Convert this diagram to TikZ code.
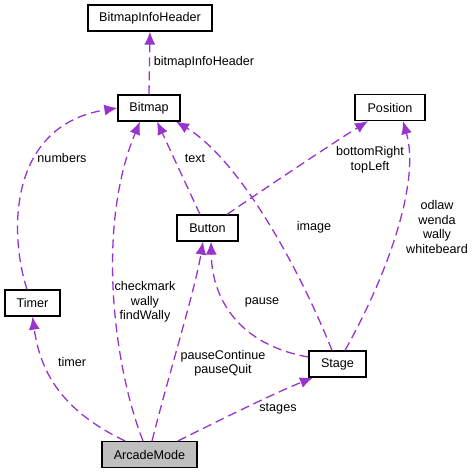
\documentclass[tikz,border=0pt]{standalone}
\usepackage{fontspec}
\setmainfont{Liberation Sans}
\usepackage{xcolor}
\usetikzlibrary{arrows.meta}
\definecolor{edgepurple}{RGB}{154,50,205}
\definecolor{boxgray}{RGB}{191,191,191}

\begin{document}
\begin{tikzpicture}[x=1pt,y=-1pt,
  cls/.style={draw=black, line width=1.2pt, fill=white, minimum height=26pt, inner sep=0pt,
    font=\fontsize{12.6}{14.5}\selectfont},
  use/.style={draw=edgepurple, line width=1.3pt, dash pattern=on 9pt off 5pt,
    -{Latex[length=13pt,width=11pt,fill=edgepurple]}},
  lbl/.style={align=center, font=\fontsize{12.6}{14.5}\selectfont, inner sep=0pt}]
\useasboundingbox (0,0) rectangle (474,473);

%classes
\node[cls, minimum width=124pt] (BitmapInfoHeader) at (150,18) {BitmapInfoHeader};
\node[cls, minimum width=62pt] (Bitmap) at (149,108) {Bitmap};
\node[cls, minimum width=70pt] (Position) at (390,107.5) {Position};
\node[cls, minimum width=61pt] (Button) at (207.5,228) {Button};
\node[cls, minimum width=55pt] (Timer) at (32.5,303) {Timer};
\node[cls, minimum width=57pt] (Stage) at (337.5,364) {Stage};
\node[cls, minimum width=95pt, fill=boxgray] (ArcadeMode) at (149.5,454.5) {ArcadeMode};

%usage
\draw[use] (Bitmap.north) -- (BitmapInfoHeader.south);
\draw[use] ([xshift=-5.5pt]Timer.north) .. controls (8,230) and (10,125) .. (Bitmap.west);
\draw[use] ([xshift=-6.5pt]ArcadeMode.north) .. controls (115,370) and (95,230) .. ([xshift=-9pt]Bitmap.south);
\draw[use] ([xshift=-7.5pt]Button.north) -- ([xshift=8pt]Bitmap.south);
\draw[use] ([xshift=-5.5pt]Stage.north) .. controls (300,270) and (240,160) .. ([xshift=27pt]Bitmap.south);
\draw[use] ([xshift=19.5pt]Button.north) .. controls (270,185) and (330,145) .. ([xshift=-22pt]Position.south);
\draw[use] ([xshift=7.5pt]Stage.north) .. controls (390,270) and (420,180) .. ([xshift=13pt]Position.south);
\draw[use] ([yshift=7pt]Stage.west) .. controls (240,345) and (212,300) .. ([xshift=3.5pt]Button.south);
\draw[use] ([xshift=2.5pt]ArcadeMode.north) .. controls (170,370) and (195,290) .. ([xshift=-4.5pt]Button.south);
\draw[use] ([xshift=-24.5pt]ArcadeMode.north) .. controls (60,410) and (40,370) .. (Timer.south);
\draw[use] ([xshift=28.5pt]ArcadeMode.north) .. controls (210,425) and (270,395) .. ([xshift=-24.5pt]Stage.south);

%labels
\node[lbl] (lInfo) at (204,62) {bitmapInfoHeader};
\node[lbl] (lNumbers) at (62,158) {numbers};
\node[lbl] (lText) at (195,158) {text};
\node[lbl] (lCorners) at (370,159.5) {bottomRight\\topLeft};
\node[lbl] (lImage) at (314,227) {image};
\node[lbl] (lChars) at (437,227) {odlaw\\wenda\\wally\\whitebeard};
\node[lbl] (lPause) at (262,302) {pause};
\node[lbl] (lFind) at (145,302) {checkmark\\wally\\findWally};
\node[lbl] (lTimer) at (72,362) {timer};
\node[lbl] (lPauseBtn) at (223,363) {pauseContinue\\pauseQuit};
\node[lbl] (lStages) at (278,409) {stages};
\end{tikzpicture}
\end{document}
